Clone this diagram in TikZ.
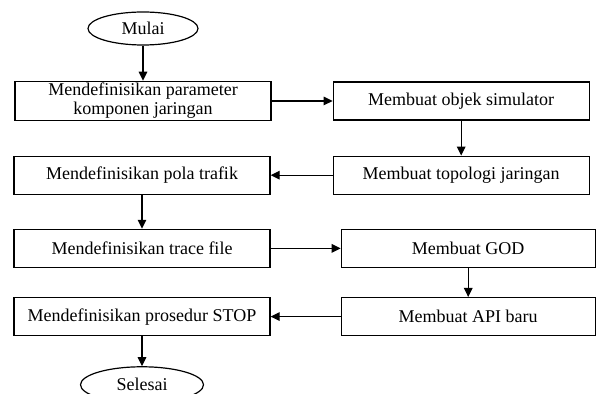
\documentclass[tikz,border=0pt]{standalone}
\usepackage{fontspec}
\setmainfont{Liberation Serif}
\usetikzlibrary{arrows.meta,positioning,shapes.geometric}

\begin{document}
\begin{tikzpicture}[
  font=\fontsize{9}{9.5}\selectfont, >={Triangle[length=4.5pt,width=4.3pt]},
  line width=0.6pt,
  stepbox/.style={draw, align=center, minimum width=128pt, minimum height=19pt, inner sep=1pt},
  term/.style={draw, ellipse, inner sep=0pt}]
  \useasboundingbox (0,0) rectangle (298.5pt,-197pt);
  \node[term, minimum width=55pt, minimum height=16.5pt] (mulai) at (71.5pt,-14.25pt) {Mulai};
  \node[stepbox, below=17.5pt of mulai] (param) {Mendefinisikan parameter\\ komponen jaringan};
  \node[stepbox, right=30.5pt of param] (objek) {Membuat objek simulator};
  \node[stepbox, below=17.5pt of objek] (topo) {Membuat topologi jaringan};
  \node[stepbox, left=31pt of topo] (pola) {Mendefinisikan pola trafik};
  \node[stepbox, below=17pt of pola] (trace) {Mendefinisikan trace file};
  \node[stepbox, right=35pt of trace, minimum width=127pt] (god) {Membuat GOD};
  \node[stepbox, below=14.5pt of trace] (stop) {Mendefinisikan prosedur STOP};
  \node[stepbox, right=35pt of stop, minimum width=127pt] (api) {Membuat API baru};
  \node[term, minimum width=61.5pt, minimum height=18pt, below=15pt of stop] (selesai) {Selesai};
  \draw[->] (mulai) -- (param); \draw[->] (param) -- (objek); \draw[->] (objek) -- (topo);
  \draw[->] (topo) -- (pola); \draw[->] (pola) -- (trace); \draw[->] (trace) -- (god);
  \draw[->] (god) -- (api); \draw[->] (api) -- (stop); \draw[->] (stop) -- (selesai);
\end{tikzpicture}
\end{document}
